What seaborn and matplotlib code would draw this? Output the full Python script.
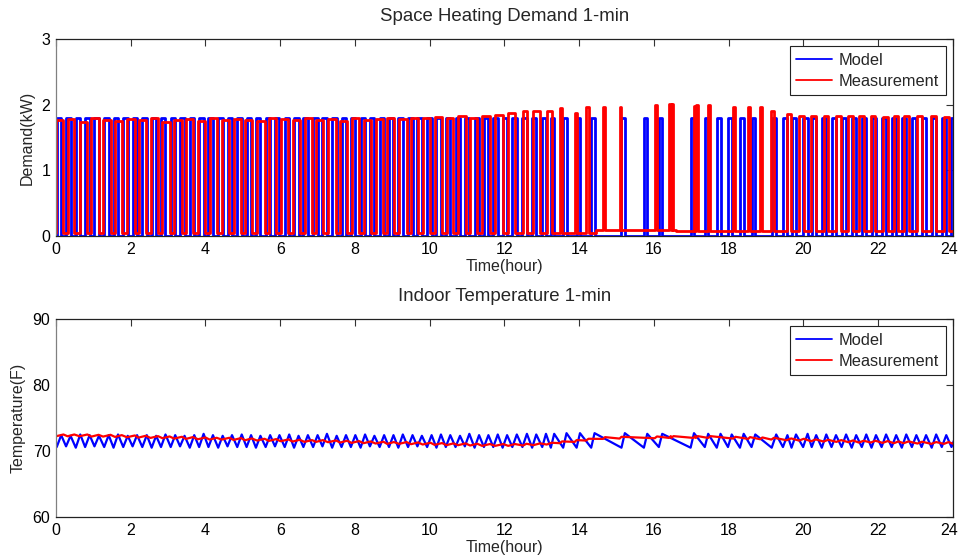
import numpy as np
import pandas as pd
import matplotlib
matplotlib.use("Agg")
import matplotlib.pyplot as plt
import matplotlib.transforms as mtransforms
from matplotlib.lines import Line2D
import seaborn as sns

# ---------------- data ----------------
series_names = ["Model", "Measurement"]
hour_ticks = list(range(0, 25, 2))
demand_ticks = [0, 1, 2, 3]
temp_ticks = [60, 70, 80, 90]

# Model heater pulses: start time (hour), duration (hour), power (kW)
model_on = [0.02, 0.27, 0.53, 0.78, 1.03, 1.29, 1.54, 1.80, 2.05, 2.31,
            2.56, 2.81, 3.07, 3.32, 3.58, 3.83, 4.08, 4.34, 4.59, 4.85,
            5.10, 5.35, 5.61, 5.86, 6.12, 6.37, 6.62, 6.88, 7.13, 7.39,
            7.64, 7.89, 8.15, 8.40, 8.66, 8.91, 9.16, 9.42, 9.67, 9.93,
            10.18, 10.43, 10.69, 10.94, 11.20, 11.45, 11.70, 11.95, 12.21, 12.48,
            12.74, 13.01, 13.24, 13.57, 13.93, 14.32, 15.13, 15.73, 16.13, 16.98,
            17.36, 17.68, 17.98, 18.30, 18.61, 19.15, 19.45, 19.68, 19.99, 20.22,
            20.49, 20.75, 21.02, 21.29, 21.56, 21.82, 22.09, 22.36, 22.63, 22.90,
            23.16, 23.43, 23.70, 23.96]
model_dur = [0.12, 0.12, 0.12, 0.12, 0.12, 0.12, 0.12, 0.12, 0.12, 0.12,
             0.12, 0.12, 0.12, 0.12, 0.12, 0.12, 0.12, 0.12, 0.12, 0.12,
             0.12, 0.12, 0.12, 0.12, 0.12, 0.12, 0.12, 0.12, 0.12, 0.12,
             0.12, 0.12, 0.12, 0.12, 0.12, 0.12, 0.12, 0.12, 0.12, 0.12,
             0.12, 0.12, 0.12, 0.12, 0.12, 0.12, 0.12, 0.12, 0.12, 0.12,
             0.11, 0.10, 0.09, 0.09, 0.09, 0.09, 0.09, 0.09, 0.09, 0.09,
             0.09, 0.10, 0.10, 0.10, 0.10, 0.12, 0.12, 0.12, 0.12, 0.12,
             0.12, 0.12, 0.12, 0.12, 0.12, 0.12, 0.12, 0.12, 0.12, 0.12,
             0.12, 0.12, 0.12, 0.12]
model_kw = 1.8

# Model indoor temperature (F) at each pulse start (low) and end (high)
model_temp_start = 70.9
model_t_lo = [70.6, 70.7, 70.5, 70.6, 70.7, 70.6, 70.5, 70.6, 70.7, 70.6,
              70.5, 70.6, 70.6, 70.7, 70.5, 70.6, 70.6, 70.5, 70.7, 70.6,
              70.6, 70.5, 70.6, 70.7, 70.6, 70.5, 70.6, 70.6, 70.7, 70.5,
              70.6, 70.6, 70.5, 70.7, 70.6, 70.6, 70.5, 70.6, 70.7, 70.6,
              70.5, 70.6, 70.6, 70.7, 70.5, 70.6, 70.6, 70.5, 70.6, 70.6,
              70.5, 70.6, 70.5, 70.5, 70.5, 70.5, 70.5, 70.5, 70.6, 70.5,
              70.6, 70.5, 70.6, 70.5, 70.6, 70.5, 70.6, 70.5, 70.6, 70.6,
              70.5, 70.6, 70.6, 70.5, 70.6, 70.5, 70.6, 70.6, 70.5, 70.6,
              70.6, 70.5, 70.6, 70.6]
model_t_hi = [72.4, 72.3, 72.5, 72.4, 72.3, 72.4, 72.5, 72.3, 72.4, 72.4,
              72.3, 72.5, 72.4, 72.3, 72.4, 72.6, 72.4, 72.3, 72.4, 72.5,
              72.4, 72.3, 72.4, 72.4, 72.5, 72.3, 72.4, 72.4, 72.6, 72.3,
              72.4, 72.4, 72.5, 72.3, 72.4, 72.4, 72.5, 72.4, 72.3, 72.4,
              72.5, 72.4, 72.3, 72.6, 72.4, 72.4, 72.5, 72.4, 72.5, 72.6,
              72.5, 72.6, 72.6, 72.7, 72.7, 72.7, 72.7, 72.6, 72.6, 72.7,
              72.6, 72.6, 72.5, 72.6, 72.5, 72.5, 72.4, 72.5, 72.6, 72.4,
              72.5, 72.4, 72.5, 72.4, 72.5, 72.4, 72.5, 72.4, 72.5, 72.4,
              72.4, 72.5, 72.4, 72.4]

# Measured heater pulses: start (hour), duration (hour), peak power (kW)
meas_on = [0.00, 0.31, 0.63, 0.95, 1.26, 1.58, 1.90, 2.21, 2.53, 2.85,
           3.16, 3.48, 3.80, 4.11, 4.43, 4.75, 5.06, 5.38, 5.70, 6.01,
           6.33, 6.65, 6.96, 7.28, 7.60, 7.91, 8.23, 8.55, 8.86, 9.18,
           9.50, 9.81, 10.13, 10.45, 10.76, 11.08, 11.40, 11.75, 12.10, 12.50,
           12.77, 13.13, 13.48, 13.88, 14.18, 14.64, 15.08, 16.02, 16.40, 16.47,
           17.06, 17.12, 17.45, 18.12, 18.52, 18.84, 19.14, 19.55, 19.88, 20.20,
           20.54, 20.88, 21.20, 21.48, 21.80, 22.12, 22.42, 22.68, 23.05, 23.42,
           23.76]
meas_dur = [0.20, 0.18, 0.21, 0.19, 0.20, 0.18, 0.21, 0.19, 0.20, 0.19,
            0.21, 0.18, 0.20, 0.19, 0.21, 0.20, 0.18, 0.20, 0.19, 0.21,
            0.19, 0.20, 0.18, 0.21, 0.19, 0.20, 0.19, 0.21, 0.18, 0.20,
            0.19, 0.21, 0.20, 0.18, 0.20, 0.19, 0.21, 0.22, 0.18, 0.09,
            0.18, 0.13, 0.06, 0.05, 0.07, 0.05, 0.05, 0.06, 0.05, 0.05,
            0.04, 0.05, 0.06, 0.06, 0.05, 0.06, 0.07, 0.12, 0.13, 0.13,
            0.12, 0.13, 0.12, 0.13, 0.12, 0.13, 0.12, 0.13, 0.12, 0.13,
            0.12]
meas_kw = [1.76, 1.78, 1.74, 1.79, 1.77, 1.75, 1.78, 1.76, 1.79, 1.74,
           1.77, 1.78, 1.75, 1.79, 1.76, 1.78, 1.77, 1.75, 1.79, 1.78,
           1.76, 1.79, 1.77, 1.78, 1.75, 1.79, 1.77, 1.78, 1.80, 1.78,
           1.79, 1.80, 1.81, 1.79, 1.82, 1.80, 1.83, 1.84, 1.87, 1.90,
           1.90, 1.91, 1.95, 1.88, 1.97, 1.97, 1.97, 2.00, 2.01, 2.01,
           1.98, 2.00, 2.00, 1.97, 1.96, 1.97, 1.90, 1.85, 1.82, 1.82,
           1.83, 1.82, 1.82, 1.82, 1.82, 1.81, 1.82, 1.82, 1.82, 1.82,
           1.81]
meas_base_from = [0.0, 14.45, 16.6]
meas_base_kw = [0.04, 0.09, 0.07]

# Measured indoor temperature (F) at each pulse start (low) and end (high)
meas_t_lo = [72.23, 72.23, 72.23, 72.18, 72.18, 72.13, 72.08, 72.03, 71.98, 71.93,
             71.88, 71.83, 71.78, 71.73, 71.73, 71.68, 71.63, 71.58, 71.53, 71.48,
             71.43, 71.38, 71.38, 71.33, 71.28, 71.23, 71.18, 71.13, 71.08, 71.08,
             71.03, 70.98, 70.93, 70.88, 70.88, 70.83, 70.78, 70.78, 70.78, 70.83,
             70.88, 70.98, 71.18, 71.38, 71.58, 71.83, 71.88, 71.93, 71.98, 71.98,
             71.98, 71.98, 71.98, 71.88, 71.83, 71.78, 71.73, 71.63, 71.58, 71.48,
             71.43, 71.38, 71.33, 71.28, 71.28, 71.23, 71.18, 71.18, 71.13, 71.08,
             71.08]
meas_t_hi = [72.50, 72.50, 72.50, 72.45, 72.45, 72.40, 72.35, 72.30, 72.25, 72.20,
             72.15, 72.10, 72.05, 72.00, 72.00, 71.95, 71.90, 71.85, 71.80, 71.75,
             71.70, 71.65, 71.65, 71.60, 71.55, 71.50, 71.45, 71.40, 71.35, 71.35,
             71.30, 71.25, 71.20, 71.15, 71.15, 71.10, 71.05, 71.05, 71.05, 71.10,
             71.15, 71.25, 71.45, 71.65, 71.85, 72.10, 72.15, 72.20, 72.25, 72.25,
             72.25, 72.25, 72.25, 72.15, 72.10, 72.05, 72.00, 71.90, 71.85, 71.75,
             71.70, 71.65, 71.60, 71.55, 71.55, 71.50, 71.45, 71.45, 71.40, 71.35,
             71.35]
meas_temp_end = 71.1

# ---------------- build step / sawtooth traces ----------------
def base_at(t):
    b = meas_base_kw[0]
    for start, val in zip(meas_base_from, meas_base_kw):
        if t >= start:
            b = val
    return b

def demand_trace(on, dur, kw, base_fn, base_steps=()):
    xs, ys = [0.0], [base_fn(0.0)]
    steps = [t for t in base_steps if t > 0]
    for s, d, h in zip(on, dur, kw):
        while steps and steps[0] < s:
            t = steps.pop(0)
            xs += [t, t]
            ys += [base_fn(t - 1e-6), base_fn(t)]
        b = base_fn(s)
        xs += [s, s, s + d, s + d]
        ys += [b, h, h, b]
    xs.append(24.0)
    ys.append(base_fn(24.0))
    return xs, ys

def temp_trace(on, dur, lo, hi, start=None, end=None):
    xs, ys = [], []
    if start is not None:
        xs.append(0.0); ys.append(start)
    for s, d, a, b in zip(on, dur, lo, hi):
        xs += [s, s + d]
        ys += [a, b]
    if end is not None:
        xs.append(24.0); ys.append(end)
    return xs, ys

mx, my = demand_trace(model_on, model_dur, [model_kw] * len(model_on), lambda t: 0.0)
rx, ry = demand_trace(meas_on, meas_dur, meas_kw, base_at, meas_base_from)
demand_df = pd.concat([
    pd.DataFrame({"t": mx, "v": my, "series": "Model"}),
    pd.DataFrame({"t": rx, "v": ry, "series": "Measurement"}),
], ignore_index=True)

tmx, tmy = temp_trace(model_on, model_dur, model_t_lo, model_t_hi, start=model_temp_start)
trx, try_ = temp_trace(meas_on, meas_dur, meas_t_lo, meas_t_hi, end=meas_temp_end)
temp_df = pd.concat([
    pd.DataFrame({"t": tmx, "v": tmy, "series": "Model"}),
    pd.DataFrame({"t": trx, "v": try_, "series": "Measurement"}),
], ignore_index=True)

# ---------------- style ----------------
sns.set_theme(style="white")
plt.rcParams["font.family"] = ["Liberation Sans", "DejaVu Sans"]
palette = {"Model": "#0000ff", "Measurement": "#ff0000"}

fig = plt.figure(figsize=(9.6, 5.6), dpi=100)
ax1 = fig.add_axes([0.0583, 0.5786, 0.9344, 0.3518])
ax2 = fig.add_axes([0.0583, 0.0768, 0.9344, 0.3536])

def style_axes(ax, yticks, ylabel, title):
    ax.set_xlim(0, 24)
    ax.set_ylim(yticks[0], yticks[-1])
    ax.set_xticks(hour_ticks)
    ax.set_yticks(yticks)
    ax.set_xlabel("Time(hour)", fontsize=11.5, labelpad=2)
    ax.set_ylabel(ylabel, fontsize=11.5, labelpad=5)
    ax.set_title(title, fontsize=13.4, pad=13)
    ax.tick_params(direction="in", top=True, right=True, length=5, width=0.8,
                   labelsize=11.5, colors="#000000", pad=4)
    ax.tick_params(axis="both", which="both", color="#333333")
    # keep the last hour label inside the figure edge
    last = ax.get_xticklabels()[-1]
    last.set_transform(last.get_transform() +
                       mtransforms.ScaledTranslation(-4 / 100, 0, fig.dpi_scale_trans))
    for side, sp in ax.spines.items():
        sp.set_visible(True)
        sp.set_linewidth(0.9)
        sp.set_color("#808080" if side in ("left",) else "#222222")
    handles = [Line2D([], [], color=palette[n], lw=1.3) for n in series_names]
    leg = ax.legend(handles, series_names, loc="upper right", fontsize=11.8,
                    frameon=True, fancybox=False, edgecolor="#222222",
                    framealpha=1, handlelength=2.2, handletextpad=0.4,
                    borderpad=0.4, labelspacing=0.35, borderaxespad=0.45)
    leg.get_frame().set_linewidth(0.8)

sns.lineplot(data=demand_df, x="t", y="v", hue="series", palette=palette,
             hue_order=series_names, sort=False, estimator=None, lw=2.0,
             ax=ax1, legend=False)
sns.lineplot(data=temp_df, x="t", y="v", hue="series", palette=palette,
             hue_order=series_names, sort=False, estimator=None, lw=1.6,
             ax=ax2, legend=False)

style_axes(ax1, demand_ticks, "Demand(kW)", "Space Heating Demand 1-min")
style_axes(ax2, temp_ticks, "Temperature(F)", "Indoor Temperature 1-min")

fig.savefig("out.png", dpi=100)
